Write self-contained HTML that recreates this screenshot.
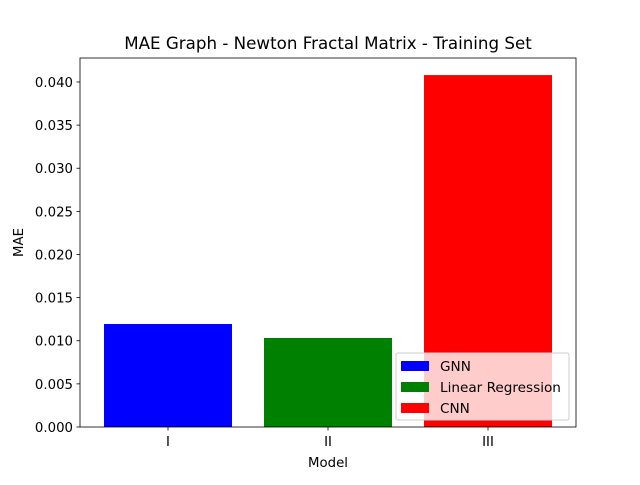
<!DOCTYPE html>
<html><head><meta charset="utf-8"><style>
body{margin:0;background:#fff}
svg{font-family:"DejaVu Sans","Liberation Sans",sans-serif}
</style></head><body>
<svg id="chart" width="640" height="480" xmlns="http://www.w3.org/2000/svg">
<rect width="640" height="480" fill="#fff"/>
<g id="plot"></g>
</svg>
<script>
const categories = ["I","II","III"];
const seriesNames = ["GNN","Linear Regression","CNN"];
const values = [0.01194, 0.01032, 0.0408];
const colors = ["#0000ff","#008000","#ff0000"];
const yTicks = [0,0.005,0.010,0.015,0.020,0.025,0.030,0.035,0.040];
const yTickLabels = ["0.000","0.005","0.010","0.015","0.020","0.025","0.030","0.035","0.040"];

const NS="http://www.w3.org/2000/svg";
const g=document.getElementById('plot');
const L=80,R=576,T=58,B=427;
const xmin=-0.55,xmax=2.55,ymin=0,ymax=0.04278;
const xs=v=>L+(v-xmin)/(xmax-xmin)*(R-L);
const ys=v=>B-(v-ymin)/(ymax-ymin)*(B-T);
function mk(tag,attrs,text){const e=document.createElementNS(NS,tag);for(const k in attrs)e.setAttribute(k,attrs[k]);if(text!==undefined)e.textContent=text;g.appendChild(e);return e;}

values.forEach((v,i)=>{
  const r=mk('rect',{x:xs(i-0.4),y:ys(v),width:xs(i+0.4)-xs(i-0.4),height:ys(0)-ys(v),fill:colors[i]});
  
  
});
const frame=mk('rect',{x:L,y:T,width:R-L,height:B-T,fill:'none',stroke:'#000','stroke-width':0.8});



yTicks.forEach((t,i)=>{
  const y=ys(t);
  mk('line',{x1:L-3.5,x2:L,y1:y,y2:y,stroke:'#000','stroke-width':0.8});
  const tx=mk('text',{x:L-7,y:y+5,'text-anchor':'end','font-size':13.3},yTickLabels[i]);
  
  
});
categories.forEach((c,i)=>{
  const x=xs(i);
  mk('line',{x1:x,x2:x,y1:B,y2:B+3.5,stroke:'#000','stroke-width':0.8});
  const tx=mk('text',{x:x,y:B+19,'text-anchor':'middle','font-size':13.3},c);
  
  
});
const title=mk('text',{x:(L+R)/2,y:T-9,'text-anchor':'middle','font-size':16.7},'MAE Graph - Newton Fractal Matrix - Training Set');


const xt=mk('text',{x:(L+R)/2,y:467,'text-anchor':'middle','font-size':13.3},'Model');


const yt=mk('text',{x:0,y:0,'text-anchor':'middle','font-size':13.3,transform:'translate(23,'+((T+B)/2)+') rotate(-90)'},'MAE');



const lb=mk('rect',{x:396,y:353,width:173,height:67,rx:2,fill:'#fff','fill-opacity':0.8,stroke:'#ccc','stroke-width':1});


seriesNames.forEach((n,i)=>{
  const y=365+i*21;
  const sw=mk('rect',{x:401,y:y-4,width:28,height:10,fill:colors[i]});
  
  
  const tx=mk('text',{x:440,y:y+6,'font-size':13.6},n);
  
  
});
</script>
</body></html>
